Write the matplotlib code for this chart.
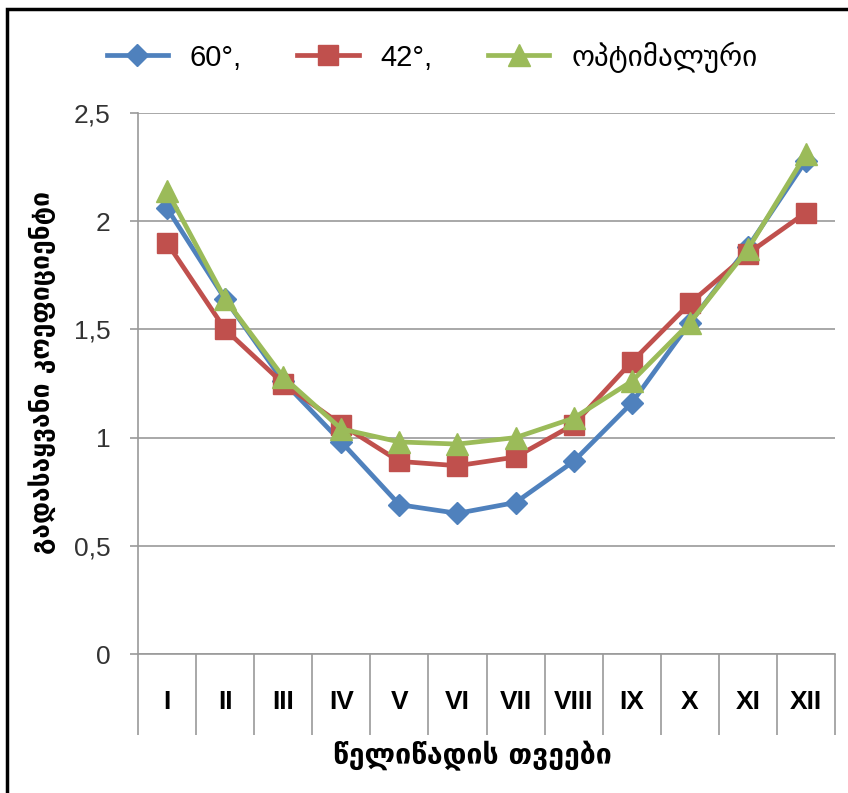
import numpy as np
import matplotlib.pyplot as plt
from matplotlib.patches import Rectangle
from matplotlib.ticker import FuncFormatter

months = ['I', 'II', 'III', 'IV', 'V', 'VI', 'VII', 'VIII', 'IX', 'X', 'XI', 'XII']
k_60 = [2.06, 1.64, 1.26, 0.98, 0.69, 0.65, 0.70, 0.89, 1.16, 1.53, 1.88, 2.28]
k_42 = [1.90, 1.50, 1.25, 1.06, 0.89, 0.87, 0.91, 1.06, 1.35, 1.62, 1.85, 2.04]
k_opt = [2.14, 1.64, 1.28, 1.04, 0.98, 0.97, 1.00, 1.09, 1.26, 1.53, 1.87, 2.31]
labels = ['60°,', '42°,', 'ოპტიმალური']

plt.rcParams['font.family'] = ['Liberation Sans', 'DejaVu Sans']

fig = plt.figure(figsize=(8.48, 7.93), dpi=100)
ax = fig.add_axes([138/848, 1-654/793, (835-138)/848, (654-113)/793])

x = np.arange(1, len(months)+1)
ax.plot(x, k_60, color='#4F81BD', lw=3.4, marker='D', ms=11, label=labels[0], zorder=3)
ax.plot(x, k_42, color='#C0504D', lw=3.4, marker='s', ms=15, label=labels[1], zorder=3)
ax.plot(x, k_opt, color='#9BBB59', lw=3.4, marker='^', ms=16, label=labels[2], zorder=4)

ax.set_xlim(0.5, 12.5)
ax.set_ylim(0, 2.5)
ax.set_yticks(np.arange(0, 2.51, 0.5))
ax.yaxis.set_major_formatter(FuncFormatter(lambda v, p: ('%g' % v).replace('.', ',')))
ax.grid(axis='y', color='#9a9a9a', lw=1.2)
ax.set_axisbelow(True)

# category labels with separators below the axis
ax.set_xticks(x)
ax.set_xticklabels(months, fontsize=19, fontweight='bold')
ax.set_xticks(np.arange(0.5, 12.6, 1), minor=True)
ax.tick_params(axis='x', which='major', length=0, pad=26)
ax.tick_params(axis='x', which='minor', length=58, color='#9a9a9a', width=1.2)
ax.tick_params(axis='y', length=6, color='#9a9a9a', width=1.2, labelsize=19, labelcolor='#333333', pad=14)

for s in ['top', 'right']:
    ax.spines[s].set_visible(False)
ax.spines['left'].set_color('#9a9a9a')
ax.spines['left'].set_linewidth(1.2)
ax.spines['bottom'].set_color('#9a9a9a')
ax.spines['bottom'].set_linewidth(1.2)

ax.set_ylabel('გადასაყვანი კოეფიციენტი', fontsize=19, fontweight='bold', family=['DejaVu Sans'])
ax.set_xlabel('წელიწადის თვეები', fontsize=20.5, fontweight='bold', family=['DejaVu Sans'])
ax.yaxis.set_label_coords(-0.118, 0.52)
ax.xaxis.set_label_coords(0.48, -0.16)

fig.legend(loc='center', bbox_to_anchor=(432/848, 1-57/793), ncol=3, frameon=False,
           fontsize=21, handlelength=2.1, columnspacing=1.9, handletextpad=0.75)

fig.patches.append(Rectangle((7/848, -0.05), 1.1, 1-9/793+0.05, transform=fig.transFigure,
                             fill=False, ec='black', lw=2.5))

fig.savefig('out.png', dpi=100)
